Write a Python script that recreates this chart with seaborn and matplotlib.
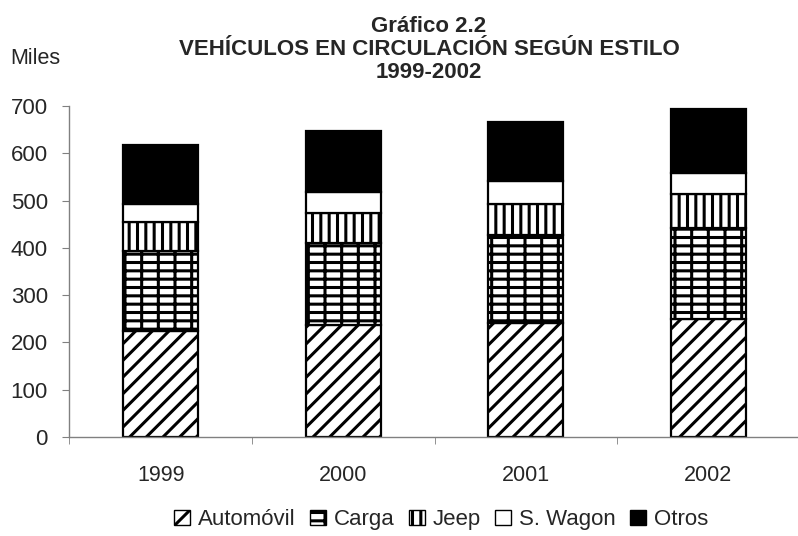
import numpy as np
import pandas as pd
import matplotlib
matplotlib.use('Agg')
import matplotlib.pyplot as plt
import seaborn as sns
from matplotlib.patches import Patch

years = ['1999', '2000', '2001', '2002']
series = ['Automóvil', 'Carga', 'Jeep', 'S. Wagon', 'Otros']
automovil = [224, 236, 240, 250]
carga = [169, 174, 188, 192]
jeep = [62, 64, 64, 72]
s_wagon = [38, 44, 49, 45]
otros = [125, 130, 126, 134]

values = [automovil, carga, jeep, s_wagon, otros]
hatches = ['//', '--|', '||', '', '']
faces = ['white', 'white', 'white', 'white', 'black']

sns.set_style('ticks')
plt.rcParams['font.family'] = ['Liberation Sans', 'DejaVu Sans']
plt.rcParams['hatch.linewidth'] = 2.2

fig = plt.figure(figsize=(7.98, 5.36), dpi=100)
ax = fig.add_axes([0.087, 0.185, 0.915, 0.617])

# stacked bars, one seaborn call per series
bottom = np.zeros(len(years))
for name, vals, hatch, face in zip(series, values, hatches, faces):
    df = pd.DataFrame({'year': years, 'value': vals})
    sns.barplot(data=df, x='year', y='value', ax=ax, color=face,
                width=0.41, bottom=bottom, hatch=hatch,
                edgecolor='black', linewidth=1.6, saturation=1)
    bottom = bottom + np.array(vals)

ax.set_xlim(-0.5, 3.5)
ax.set_ylim(0, 700)
ax.set_yticks(range(0, 701, 100))
ax.set_xlabel('')
ax.set_ylabel('')
ax.tick_params(axis='x', which='major', length=0, labelsize=15.5, pad=20)
ax.tick_params(axis='y', labelsize=16, length=5, color='#808080', pad=10.5)
ax.set_xticks([-0.5, 0.5, 1.5, 2.5, 3.5], minor=True)
ax.tick_params(axis='x', which='minor', length=5, color='#808080')
sns.despine(ax=ax, right=True, top=True)
for s in ['left', 'bottom']:
    ax.spines[s].set_color('#808080')
    ax.spines[s].set_linewidth(1.0)

fig.text(0.5376, 0.907, 'Gráfico 2.2\nVEHÍCULOS EN CIRCULACIÓN SEGÚN ESTILO\n1999-2002',
         ha='center', va='center', fontsize=16, fontweight='bold', linespacing=1.12)
fig.text(0.0125, 0.89, 'Miles', fontsize=15.5, ha='left', va='center')

handles = [Patch(facecolor=f, edgecolor='black', hatch=h, label=n)
           for n, h, f in zip(series, hatches, faces)]
fig.legend(handles=handles, loc='center', bbox_to_anchor=(0.553, 0.03), ncol=5,
           frameon=False, fontsize=16, handlelength=0.7, handleheight=0.7,
           handletextpad=0.37, columnspacing=0.65, borderpad=0.2)

fig.savefig('out.png', dpi=100)
